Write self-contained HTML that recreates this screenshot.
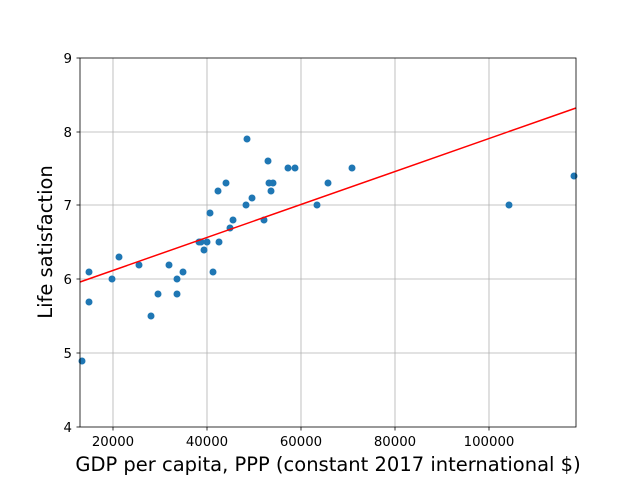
<!DOCTYPE html>
<html><head><style>
html,body{margin:0;padding:0;background:#fff;}
svg{display:block;font-family:"DejaVu Sans","Liberation Sans",sans-serif;}
</style></head><body>
<svg width="640" height="480" xmlns="http://www.w3.org/2000/svg">
<rect width="640" height="480" fill="#fff"/>
<g stroke="#b0b0b0" stroke-width="0.8">
<line x1="113" y1="58" x2="113" y2="427"/>
<line x1="207" y1="58" x2="207" y2="427"/>
<line x1="301" y1="58" x2="301" y2="427"/>
<line x1="395" y1="58" x2="395" y2="427"/>
<line x1="489" y1="58" x2="489" y2="427"/>
<line x1="80" y1="353" x2="576" y2="353"/>
<line x1="80" y1="279" x2="576" y2="279"/>
<line x1="80" y1="205" x2="576" y2="205"/>
<line x1="80" y1="132" x2="576" y2="132"/>
</g>
<g fill="#1f77b4">
<circle cx="82" cy="361" r="3.5"/><circle cx="89" cy="272" r="3.5"/><circle cx="89" cy="302" r="3.5"/>
<circle cx="112" cy="279" r="3.5"/><circle cx="119" cy="257" r="3.5"/><circle cx="139" cy="265" r="3.5"/>
<circle cx="151" cy="316" r="3.5"/><circle cx="158" cy="294" r="3.5"/><circle cx="169" cy="265" r="3.5"/>
<circle cx="177" cy="279" r="3.5"/><circle cx="177" cy="294" r="3.5"/><circle cx="183" cy="272" r="3.5"/>
<circle cx="199" cy="242" r="3.5"/><circle cx="201" cy="242" r="3.5"/><circle cx="204" cy="250" r="3.5"/>
<circle cx="207" cy="242" r="3.5"/><circle cx="210" cy="213" r="3.5"/><circle cx="213" cy="272" r="3.5"/>
<circle cx="218" cy="191" r="3.5"/><circle cx="219" cy="242" r="3.5"/><circle cx="226" cy="183" r="3.5"/>
<circle cx="230" cy="228" r="3.5"/><circle cx="233" cy="220" r="3.5"/><circle cx="246" cy="205" r="3.5"/>
<circle cx="247" cy="139" r="3.5"/><circle cx="252" cy="198" r="3.5"/><circle cx="264" cy="220" r="3.5"/>
<circle cx="268" cy="161" r="3.5"/><circle cx="269" cy="183" r="3.5"/><circle cx="271" cy="191" r="3.5"/>
<circle cx="273" cy="183" r="3.5"/><circle cx="288" cy="168" r="3.5"/><circle cx="295" cy="168" r="3.5"/>
<circle cx="317" cy="205" r="3.5"/><circle cx="328" cy="183" r="3.5"/><circle cx="352" cy="168" r="3.5"/>
<circle cx="509" cy="205" r="3.5"/><circle cx="574" cy="176" r="3.5"/>
</g>
<line x1="80" y1="282" x2="576" y2="108" stroke="#ff0000" stroke-width="1.5"/>
<rect x="80" y="58" width="496" height="369" fill="none" stroke="#000" stroke-width="0.8"/>
<g stroke="#000" stroke-width="0.8">
<line x1="113" y1="427" x2="113" y2="430.5"/><line x1="207" y1="427" x2="207" y2="430.5"/>
<line x1="301" y1="427" x2="301" y2="430.5"/><line x1="395" y1="427" x2="395" y2="430.5"/>
<line x1="489" y1="427" x2="489" y2="430.5"/>
<line x1="76.5" y1="427" x2="80" y2="427"/><line x1="76.5" y1="353" x2="80" y2="353"/>
<line x1="76.5" y1="279" x2="80" y2="279"/><line x1="76.5" y1="205" x2="80" y2="205"/>
<line x1="76.5" y1="132" x2="80" y2="132"/><line x1="76.5" y1="58" x2="80" y2="58"/>
</g>
<g font-size="13.3" fill="#000" text-anchor="middle">
<text x="113" y="446">20000</text><text x="207" y="446">40000</text>
<text x="301" y="446">60000</text><text x="395" y="446">80000</text>
<text x="489" y="446">100000</text>
</g>
<g font-size="13.3" fill="#000" text-anchor="end">
<text x="72" y="432">4</text><text x="72" y="358">5</text><text x="72" y="284">6</text>
<text x="72" y="210">7</text><text x="72" y="137">8</text><text x="72" y="63">9</text>
</g>
<text x="328" y="471" font-size="19.5" text-anchor="middle">GDP per capita, PPP (constant 2017 international $)</text>
<text transform="translate(52,242) rotate(-90)" font-size="19.5" text-anchor="middle">Life satisfaction</text>
</svg>
</body></html>
